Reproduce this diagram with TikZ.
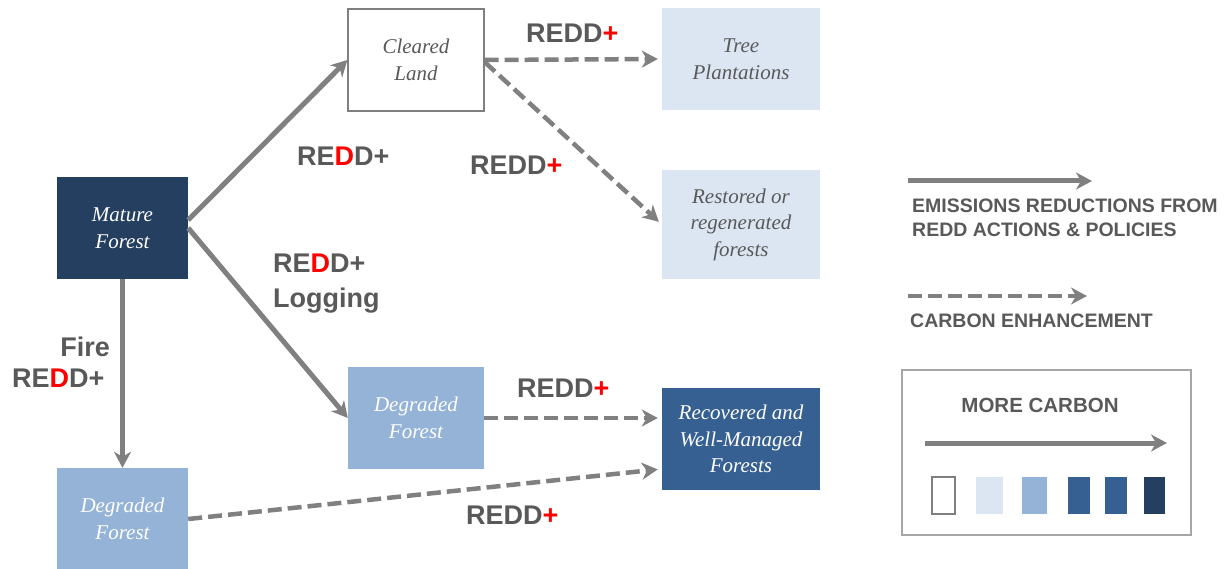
\documentclass[tikz,border=0pt]{standalone}
\usepackage{fontspec}
\setmainfont{Liberation Serif}
\setsansfont{Liberation Sans}
\usetikzlibrary{arrows.meta}
\definecolor{txtgray}{HTML}{595959}
\definecolor{arrgray}{HTML}{808080}
\definecolor{boxline}{HTML}{7F7F7F}
\definecolor{legline}{HTML}{A6A6A6}
\definecolor{cA}{HTML}{DCE6F2}
\definecolor{cB}{HTML}{95B3D7}
\definecolor{cC}{HTML}{366092}
\definecolor{cD}{HTML}{243F60}
\definecolor{plusred}{HTML}{FF0000}
\newcommand{\rDlab}{RE\textcolor{plusred}{D}D+}
\newcommand{\rPlab}{REDD\textcolor{plusred}{+}}
\begin{document}
\begin{tikzpicture}[x=1pt,y=-1pt,
  box/.style={inner sep=0pt, align=center, font=\fontsize{21}{26.5}\selectfont\itshape},
  lab/.style={inner sep=0pt, font=\sffamily\bfseries\fontsize{27}{32}\selectfont, text=txtgray},
  legtxt/.style={inner sep=0pt, font=\sffamily\bfseries\fontsize{19.5}{24}\selectfont, text=txtgray},
  solidarr/.style={draw=arrgray, line width=5pt, -{Stealth[length=16pt,width=17pt,inset=5pt]}},
  dasharr/.style={solidarr, line width=4.5pt, dash pattern=on 14pt off 6pt},
  swatch/.style={inner sep=0pt, minimum height=37pt}
]
\useasboundingbox (0,0) rectangle (1232,569);

% boxes
\node[box, minimum width=131pt, minimum height=102pt, fill=cD, text=white] (mature) at (122.5,228) {Mature\\Forest};
\node[box, minimum width=136pt, minimum height=102pt, fill=white, draw=boxline, line width=1.2pt, text=txtgray] (cleared) at (416,60) {Cleared\\Land};
\node[box, minimum width=158pt, minimum height=102pt, fill=cA, text=txtgray] (tree) at (741,59) {Tree\\Plantations};
\node[box, minimum width=158pt, minimum height=109pt, fill=cA, text=txtgray] (restored) at (741,224.5) {Restored or\\regenerated\\forests};
\node[box, minimum width=136pt, minimum height=102pt, fill=cB, text=white] (degm) at (416,418) {Degraded\\Forest};
\node[box, minimum width=158pt, minimum height=102pt, fill=cC, text=white] (recov) at (741,439) {Recovered and\\Well-Managed\\Forests};
\node[box, minimum width=131pt, minimum height=102pt, fill=cB, text=white] (degb) at (122.5,519) {Degraded\\Forest};

% connectors
\draw[solidarr] ([yshift=8pt]mature.east) -- (cleared.west);
\draw[solidarr] (mature.east) -- (degm.west);
\draw[solidarr] (mature.south) -- (degb.north);
\draw[dasharr, shorten >=4pt] (cleared.east) -- (tree.west);
\draw[dasharr, shorten >=4pt] ([yshift=-2pt]cleared.east) -- (restored.west);
\draw[dasharr, shorten >=4pt] (degm.east) -- (degm.east -| recov.west);
\draw[dasharr, shorten >=4pt] (degb.east) -- ([yshift=-30pt]recov.west);

% labels
\node[lab, anchor=base west] (l1) at (526,43) {\rPlab};
\node[lab, anchor=base west] (l2) at (297,166) {\rDlab};
\node[lab, anchor=base west] (l3) at (470,175) {\rPlab};
\node[lab, anchor=base west] (l4) at (273,273) {\rDlab};
\node[lab, anchor=base west] (l4b) at (273,308) {Logging};
\node[lab, anchor=base east] (l5) at (110,357) {Fire};
\node[lab, anchor=base west] (l5b) at (12,388) {\rDlab};
\node[lab, anchor=base west] (l6) at (517,397) {\rPlab};
\node[lab, anchor=base west] (l7) at (466,524) {\rPlab};

% legend
\coordinate (la1) at (908,181);
\coordinate (la2) at (1092,181);
\draw[solidarr] (la1) -- (la2);
\node[legtxt, anchor=base west] (lt1) at (912,213) {EMISSIONS REDUCTIONS FROM};
\node[legtxt, anchor=base west] (lt2) at (912,237) {REDD ACTIONS \& POLICIES};
\coordinate (lb1) at (908,296);
\coordinate (lb2) at (1087,296);
\draw[dasharr] (lb1) -- (lb2);
\node[legtxt, anchor=base west] (lt3) at (910,328) {CARBON ENHANCEMENT};

\node[draw=legline, line width=1.5pt, minimum width=289pt, minimum height=165pt, inner sep=0pt] (legend) at (1046.5,452.5) {};
\node[legtxt, font=\sffamily\bfseries\fontsize{20.5}{24}\selectfont] (more) at (1040,405) {MORE CARBON};
\coordinate (lc1) at (925,443);
\coordinate (lc2) at (1167,443);
\draw[solidarr] (lc1) -- (lc2);
\node[swatch, minimum width=23pt, fill=white, draw=boxline, line width=1.2pt] (s1) at (943.5,495.5) {};
\node[swatch, minimum width=27pt, fill=cA] (s2) at (989.5,495.5) {};
\node[swatch, minimum width=25pt, fill=cB] (s3) at (1034.5,495.5) {};
\node[swatch, minimum width=22pt, fill=cC] (s4) at (1079,495.5) {};
\node[swatch, minimum width=22pt, fill=cC] (s5) at (1116,495.5) {};
\node[swatch, minimum width=21pt, fill=cD] (s6) at (1154.5,495.5) {};
\end{tikzpicture}
\end{document}
